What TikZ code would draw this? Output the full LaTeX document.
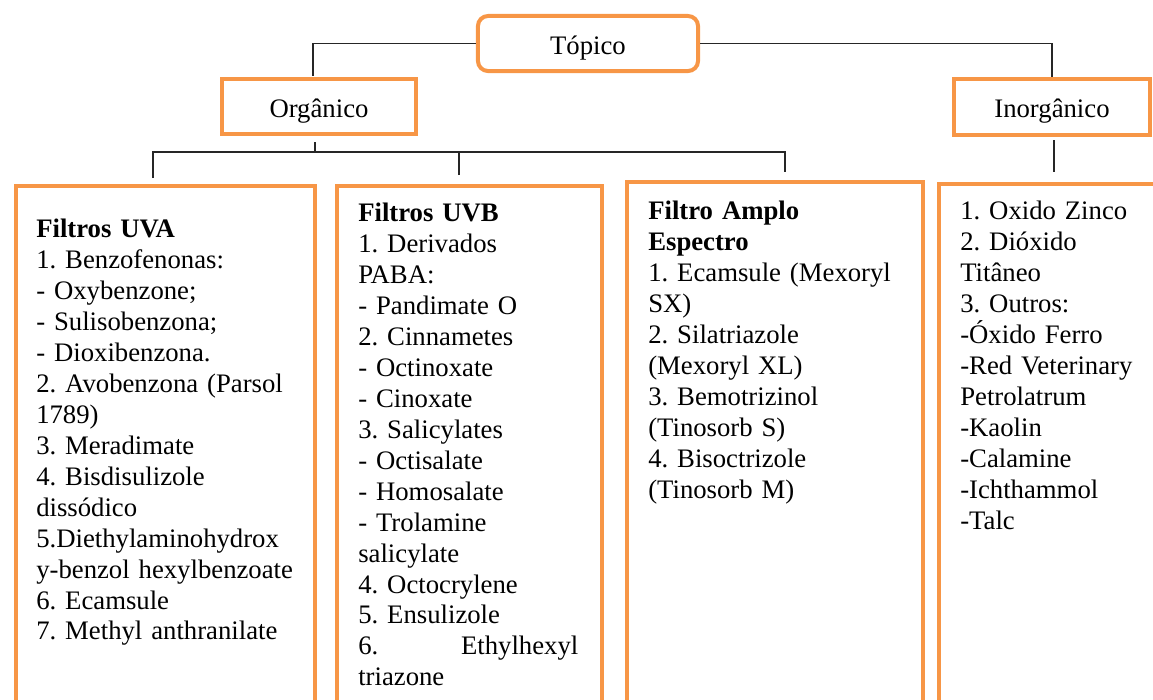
\documentclass[tikz,border=0pt]{standalone}
\usepackage{fontspec}
\setmainfont{Liberation Serif}
\usepackage{xcolor}
\definecolor{laranja}{HTML}{F79646}
\newcommand{\fonte}{\fontsize{19}{22}\selectfont\frenchspacing}
\tikzset{
  topo/.style={draw=laranja, line width=0.1cm, rounded corners=0.25cm, minimum width=5.5cm, minimum height=1.375cm, inner sep=0pt, text height=19pt, text depth=4pt, font=\fonte},
  classe/.style={draw=laranja, line width=0.1cm, minimum height=1.35cm, inner sep=0pt, text height=19pt, text depth=4pt, font=\fonte},
  coluna/.style={draw=laranja, line width=0.1cm, minimum height=14cm, inner sep=0pt, anchor=north west},
  lista/.style={anchor=north west, inner sep=0pt, align=left, font=\fonte},
  ligacao/.style={black!85, line width=1.2pt}
}

\begin{document}
\begin{tikzpicture}[x=0.025cm, y=-0.025cm]
\clip (0,0) rectangle (1153,699);
%\draw[step=50,gray,very thin] (0,0) grid (1153,699); %grelha
% caixas de cima
\node[topo] (topico) at (588,43.5) {Tópico};
\node[classe, minimum width=4.85cm] (organico) at (319,106.5) {Orgânico};
\node[classe, minimum width=4.9cm, minimum height=1.4cm] (inorganico) at (1052,107) {Inorgânico};
% colunas
\node[coluna, minimum width=7.475cm] (uva) at (14,184) {};
\node[coluna, minimum width=6.625cm] (uvb) at (335,184) {};
\node[coluna, minimum width=7.4cm] (amplo) at (625,180) {};
\node[coluna, minimum width=5.7cm] (inorg) at (937,182) {};
% ligacoes
\coordinate (orgTopo) at (313,76);
\coordinate (orgSaida) at (315,142);
\coordinate (bus) at (315,152);
\coordinate (bUva) at (153,178); \coordinate (bUvb) at (459,175); \coordinate (bAmplo) at (785,172);
\coordinate (inorgSaida) at (1054,140); \coordinate (bInorg) at (1054,172);
\draw[ligacao] (topico.west) -| (orgTopo);
\draw[ligacao] (topico.east) -| (inorganico.north);
\draw[ligacao] (orgSaida) -- (bus);
\draw[ligacao] (bUva) |- (bus) -| (bAmplo);
\draw[ligacao] (bUvb) -- (bUvb |- bus);
\draw[ligacao] (inorgSaida) -- (bInorg);
% textos
\node[lista, text width=7cm] (uvatxt) at (36,219) {\textbf{Filtros UVA}\\
1. Benzofenonas:\\
- Oxybenzone;\\
- Sulisobenzona;\\
- Dioxibenzona.\\
2. Avobenzona (Parsol\\
1789)\\
3. Meradimate\\
4. Bisdisulizole\\
dissódico\\
5.Diethylaminohydrox\\
y-benzol hexylbenzoate\\
6. Ecamsule\\
7. Methyl anthranilate};
\node[lista, text width=5.5cm] (uvbtxt) at (358,203) {\textbf{Filtros UVB}\\
1. Derivados\\
PABA:\\
- Pandimate O\\
2. Cinnametes\\
- Octinoxate\\
- Cinoxate\\
3. Salicylates\\
- Octisalate\\
- Homosalate\\
- Trolamine\\
salicylate\\
4. Octocrylene\\
5. Ensulizole\\
6.\hfill Ethylhexyl\\
triazone};
\node[lista, text width=6.8cm] (amplotxt) at (648,201) {\textbf{Filtro Amplo}\\
\textbf{Espectro}\\
1. Ecamsule (Mexoryl\\
SX)\\
2. Silatriazole\\
(Mexoryl XL)\\
3. Bemotrizinol\\
(Tinosorb S)\\
4. Bisoctrizole\\
(Tinosorb M)};
\node[lista, text width=4.8cm] (inorgtxt) at (960,201) {1. Oxido Zinco\\
2. Dióxido\\
Titâneo\\
3. Outros:\\
-Óxido Ferro\\
-Red Veterinary\\
Petrolatrum\\
-Kaolin\\
-Calamine\\
-Ichthammol\\
-Talc};
\end{tikzpicture}
\end{document}
